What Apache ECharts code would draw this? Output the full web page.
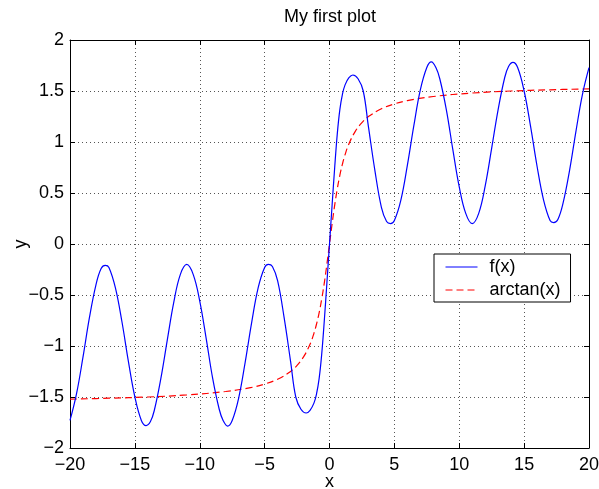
<!DOCTYPE html>
<html>
<head>
<meta charset="utf-8">
<script src="https://cdn.jsdelivr.net/npm/echarts@6/dist/echarts.min.js"></script>
<style>html,body{margin:0;padding:0;background:#fff;}#c{width:599px;height:489px;}</style>
</head>
<body>
<div id="c"></div>
<script>
var titleText = 'My first plot';
var xName = 'x';
var yName = 'y';
var xTicks = [-20, -15, -10, -5, 0, 5, 10, 15, 20];
var yTicks = [-2, -1.5, -1, -0.5, 0, 0.5, 1, 1.5, 2];
var seriesNames = ['f(x)', 'arctan(x)'];

var fX = [-20, -19.5, -19, -18.5, -18, -17.6, -17.28, -17, -16.5, -16, -15.5, -15, -14.5, -14.14, -13.8, -13.5, -13, -12.5, -12, -11.5, -11, -10.5, -10, -9.5, -9, -8.5, -8.2, -7.85, -7.5, -7, -6.5, -6, -5.5, -5, -4.71, -4.4, -4, -3.5, -3, -2.6, -2.2, -1.8, -1.5, -1.2, -1, -0.8, -0.6, -0.4, -0.2, 0,
  0.2, 0.4, 0.6, 0.8, 1, 1.2, 1.5, 1.8, 2.2, 2.6, 3, 3.5, 4, 4.4, 4.71, 5, 5.5, 6, 6.5, 7, 7.5, 7.85, 8.2, 8.5, 9, 9.5, 10, 10.5, 11, 11.5, 12, 12.5, 13, 13.5, 13.8, 14.14, 14.5, 15, 15.5, 16, 16.5, 17, 17.28, 17.6, 18, 18.5, 19, 19.5, 20];
var fY = [-1.73, -1.47, -1.11, -0.72, -0.40, -0.24, -0.21, -0.23, -0.43, -0.76, -1.15, -1.50, -1.73, -1.78, -1.74, -1.63, -1.32, -0.94, -0.57, -0.30, -0.20, -0.30, -0.56, -0.93, -1.32, -1.62, -1.73, -1.785, -1.73, -1.51, -1.16, -0.77, -0.43, -0.23, -0.20, -0.22, -0.36, -0.72, -1.15, -1.50, -1.62, -1.657, -1.63, -1.56, -1.47, -1.32, -1.08, -0.75, -0.38, 0,
  0.38, 0.75, 1.08, 1.32, 1.47, 1.56, 1.63, 1.657, 1.62, 1.50, 1.15, 0.72, 0.36, 0.22, 0.20, 0.23, 0.43, 0.77, 1.16, 1.51, 1.73, 1.785, 1.73, 1.62, 1.32, 0.93, 0.56, 0.30, 0.20, 0.30, 0.57, 0.94, 1.32, 1.63, 1.74, 1.78, 1.73, 1.50, 1.15, 0.76, 0.43, 0.23, 0.21, 0.24, 0.40, 0.72, 1.11, 1.47, 1.73];

var aX = [-20, -17, -14, -11, -8, -6, -5, -4, -3, -2.5, -2, -1.5, -1.2, -1, -0.8, -0.6, -0.4, -0.2, 0, 0.2, 0.4, 0.6, 0.8, 1, 1.2, 1.5, 2, 2.5, 3, 4, 5, 6, 8, 11, 14, 17, 20];
var aY = [-1.521, -1.512, -1.500, -1.480, -1.446, -1.406, -1.373, -1.326, -1.249, -1.190, -1.107, -0.983, -0.876, -0.785, -0.675, -0.540, -0.381, -0.197, 0, 0.197, 0.381, 0.540, 0.675, 0.785, 0.876, 0.983, 1.107, 1.190, 1.249, 1.326, 1.373, 1.406, 1.446, 1.480, 1.500, 1.512, 1.521];

function zip(a, b) { var r = []; for (var i = 0; i < a.length; i++) r.push([a[i], b[i]]); return r; }

var FONT = '"Liberation Sans", Arial, Helvetica, sans-serif';
var FS = 18;
var chart = echarts.init(document.getElementById('c'), null, {renderer: 'canvas'});

function minusFmt(v) { return String(v).replace('-', '\u2212'); }

function xAxisDef(pos, main) {
  return {
    type: 'value', position: pos, min: xTicks[0], max: xTicks[xTicks.length - 1], interval: 5,
    name: main ? xName : '', nameLocation: 'middle', nameGap: 25, nameMoveOverlap: false,
    nameTextStyle: {color: '#000', fontSize: FS, fontFamily: FONT},
    axisLine: {show: true, onZero: false, lineStyle: {color: '#000', width: 1}},
    axisTick: {show: true, inside: true, length: 5, lineStyle: {color: '#000'}},
    axisLabel: {show: main, color: '#000', fontSize: FS, fontFamily: FONT, margin: 8, formatter: minusFmt},
    splitLine: {show: main, lineStyle: {color: '#555', type: [1, 3], width: 1}}
  };
}
function yAxisDef(pos, main) {
  return {
    type: 'value', position: pos, min: yTicks[0], max: yTicks[yTicks.length - 1], interval: 0.5,
    name: main ? yName : '', nameLocation: 'middle', nameGap: 40, nameMoveOverlap: false,
    nameTextStyle: {color: '#000', fontSize: FS, fontFamily: FONT},
    axisLine: {show: true, onZero: false, lineStyle: {color: '#000', width: 1}},
    axisTick: {show: true, inside: true, length: 5, lineStyle: {color: '#000'}},
    axisLabel: {show: main, color: '#000', fontSize: FS, fontFamily: FONT, margin: 6, formatter: minusFmt},
    splitLine: {show: main, lineStyle: {color: '#555', type: [1, 3], width: 1}}
  };
}

chart.setOption({
  animation: false,
  backgroundColor: '#fff',
  title: {text: titleText, left: 325, top: 3, textAlign: 'center',
    textStyle: {fontSize: FS, fontWeight: 'normal', color: '#000', fontFamily: FONT}},
  grid: {left: 70, right: 10, top: 40, bottom: 41, containLabel: false, outerBoundsMode: 'none'},
  xAxis: [xAxisDef('bottom', true), xAxisDef('top', false)],
  yAxis: [yAxisDef('left', true), yAxisDef('right', false)],
  legend: {
    data: seriesNames, orient: 'vertical', left: 434, top: 254,
    itemWidth: 32, itemHeight: 14, itemGap: 5,
    padding: [4, 10, 3, 11],
    backgroundColor: '#fff', borderColor: '#000', borderWidth: 1,
    itemStyle: {opacity: 0},
    lineStyle: {width: 1},
    textStyle: {fontSize: FS, color: '#000', fontFamily: FONT, padding: [0, 0, 0, 7]}
  },
  series: [
    {name: seriesNames[0], type: 'line', data: zip(fX, fY), xAxisIndex: 0, yAxisIndex: 0,
      symbol: 'none', smooth: 0.4, lineStyle: {color: '#0000ff', width: 1.2}, itemStyle: {color: '#0000ff'}, z: 3},
    {name: seriesNames[1], type: 'line', data: zip(aX, aY), xAxisIndex: 0, yAxisIndex: 0,
      symbol: 'none', smooth: 0.4, lineStyle: {color: '#ff0000', width: 1.2, type: [7, 4]}, itemStyle: {color: '#ff0000'}, z: 2}
  ]
});
</script>
</body>
</html>
